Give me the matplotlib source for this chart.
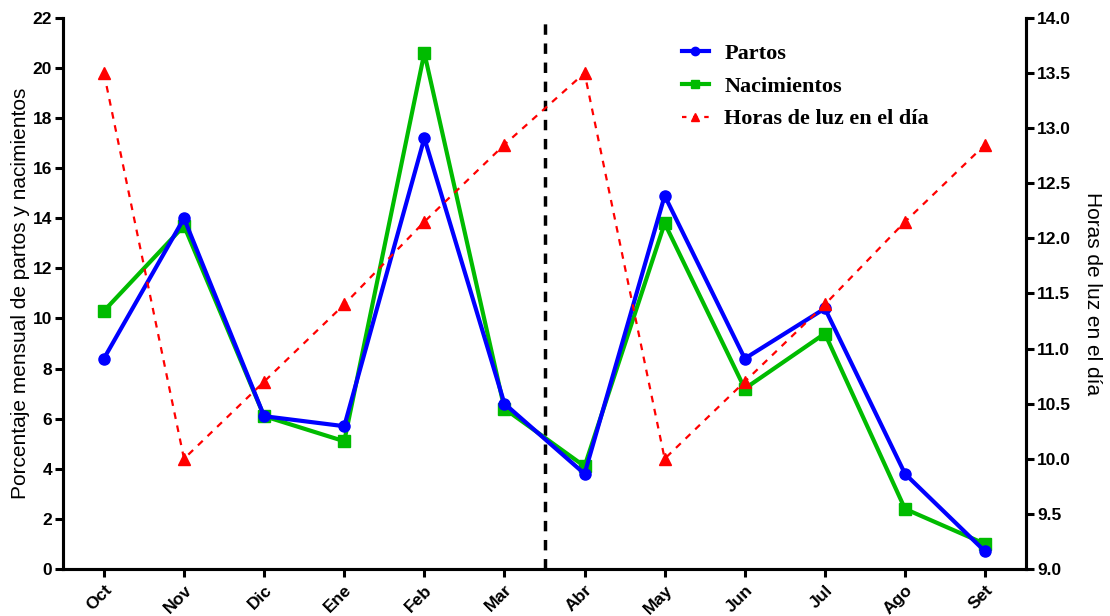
import matplotlib
matplotlib.use("Agg")
import matplotlib.pyplot as plt
from matplotlib.lines import Line2D

months = ["Oct", "Nov", "Dic", "Ene", "Feb", "Mar", "Abr", "May", "Jun", "Jul", "Ago", "Set"]
partos = [8.4, 14.0, 6.1, 5.7, 17.2, 6.6, 3.8, 14.9, 8.4, 10.4, 3.8, 0.7]
nacimientos = [10.3, 13.7, 6.1, 5.1, 20.6, 6.4, 4.1, 13.8, 7.2, 9.4, 2.4, 1.0]
horas_luz = [13.5, 10.0, 10.7, 11.4, 12.15, 12.85, 13.5, 10.0, 10.7, 11.4, 12.15, 12.85]
left_ticks = list(range(0, 23, 2))
right_ticks = [9.0, 9.5, 10.0, 10.5, 11.0, 11.5, 12.0, 12.5, 13.0, 13.5, 14.0]

plt.rcParams['font.family'] = ['Liberation Sans', 'DejaVu Sans']

fig = plt.figure(figsize=(11.10, 6.16), dpi=100)
ax = fig.add_axes([0.0568, 0.0763, 0.8675, 0.8947])
ax2 = ax.twinx()

x = list(range(len(months)))
ax.plot(x, partos, color='#0000FF', lw=3, marker='o', ms=8, zorder=4)
ax.plot(x, nacimientos, color='#00BB00', lw=3, marker='s', ms=8, zorder=3)
ax2.plot(x, horas_luz, color='#FF0000', lw=1.6, ls=(0, (3, 3)), marker='^', ms=8)

ax.axvline(5.5, color='black', lw=2.5, ls=(0, (3, 2.5)))

ax.set_xlim(-0.51, 11.51)
ax.set_ylim(0, 22)
ax2.set_ylim(9, 14)
ax.set_yticks(left_ticks)
ax2.set_yticks(right_ticks)
ax2.set_yticklabels([f"{v:.1f}" for v in right_ticks])
ax.set_xticks(x)
ax.set_xticklabels(months, rotation=45, ha='right', rotation_mode='anchor')

for a in (ax, ax2):
    a.spines['top'].set_visible(False)
    for s in ('left', 'right', 'bottom'):
        a.spines[s].set_linewidth(2.2)
    a.tick_params(width=2.2, length=6, direction='out', labelsize=12.5)
    for lab in a.get_xticklabels() + a.get_yticklabels():
        lab.set_fontweight('bold')
ax.tick_params(axis='y', pad=2)
ax2.tick_params(axis='y', pad=2)

ax.set_ylabel('Porcentaje mensual de partos y nacimientos', fontsize=15, labelpad=2)
ax2.set_ylabel('Horas de luz en el día', fontsize=15, rotation=270, labelpad=22)

handles = [
    Line2D([], [], color='#0000FF', lw=3, marker='o', ms=6),
    Line2D([], [], color='#00BB00', lw=3, marker='s', ms=6),
    Line2D([], [], color='#FF0000', lw=1.6, ls=(0, (2, 3)), marker='^', ms=6),
]
leg = ax.legend(handles, ['Partos', 'Nacimientos', 'Horas de luz en el día'],
                loc='upper left', bbox_to_anchor=(0.622, 0.99), frameon=False,
                prop={'family': 'Liberation Serif', 'weight': 'bold', 'size': 16},
                handlelength=1.2, handletextpad=0.7, labelspacing=0.55)

fig.savefig('out.png', dpi=100)
